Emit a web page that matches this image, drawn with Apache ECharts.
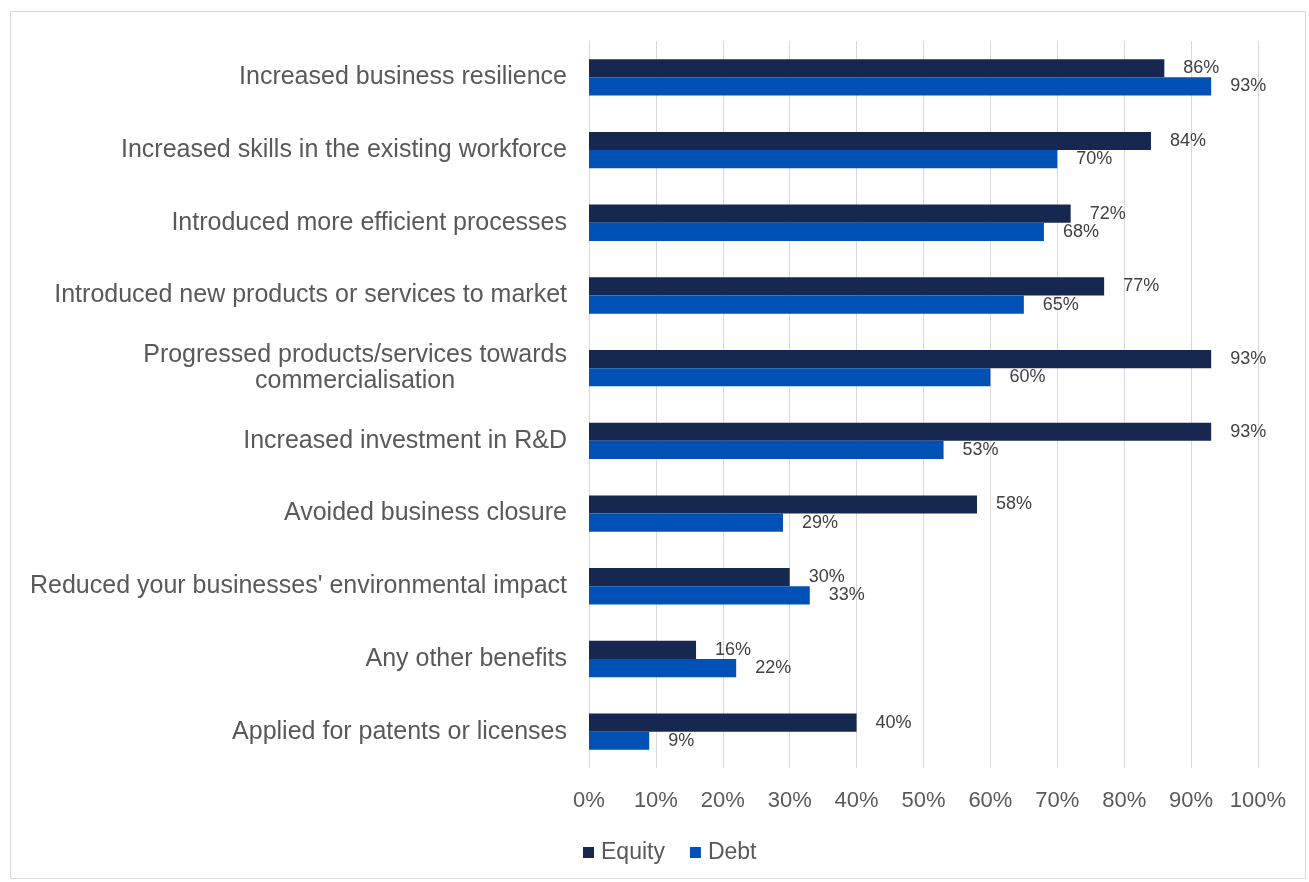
<!DOCTYPE html>
<html>
<head>
<meta charset="utf-8">
<script src="https://cdn.jsdelivr.net/npm/echarts@6/dist/echarts.min.js"></script>
<style>
html,body{margin:0;padding:0;background:#fff;}
#chart{width:1309px;height:882px;}
</style>
</head>
<body>
<div id="chart"></div>
<script>
const categories = [
  'Increased business resilience',
  'Increased skills in the existing workforce',
  'Introduced more efficient processes',
  'Introduced new products or services to market',
  'Progressed products/services towards\ncommercialisation',
  'Increased investment in R&D',
  'Avoided business closure',
  "Reduced your businesses' environmental impact",
  'Any other benefits',
  'Applied for patents or licenses'
];
const equity = [86, 84, 72, 77, 93, 93, 58, 30, 16, 40];
const debt = [93, 70, 68, 65, 60, 53, 29, 33, 22, 9];
const seriesNames = ['Equity', 'Debt'];
const tickValues = [0, 10, 20, 30, 40, 50, 60, 70, 80, 90, 100];

const FONT = '"Liberation Sans", Arial, sans-serif';
const chart = echarts.init(document.getElementById('chart'));

const labelStyle = {
  show: true,
  position: 'right',
  distance: 19,
  formatter: p => p.value + '%',
  color: '#404040',
  fontFamily: FONT,
  fontSize: 18
};

chart.setOption({
  animation: false,
  backgroundColor: '#ffffff',
  graphic: [{
    type: 'rect',
    shape: { x: 10.5, y: 11.5, width: 1295, height: 867 },
    style: { fill: 'none', stroke: '#d9d9d9', lineWidth: 1 },
    silent: true
  }],
  grid: { left: 589, right: 51, top: 41, bottom: 114, containLabel: false },
  legend: {
    data: seriesNames,
    left: 578,
    top: 836,
    itemWidth: 11,
    itemHeight: 11,
    itemGap: 25,
    icon: 'rect',
    textStyle: { color: '#595959', fontFamily: FONT, fontSize: 23, padding: [0, 0, 0, 2] }
  },
  xAxis: {
    type: 'value',
    min: 0,
    max: 100,
    interval: 10,
    axisLine: { show: false },
    axisTick: { show: false },
    splitLine: { show: true, lineStyle: { color: '#d9d9d9', width: 1 } },
    axisLabel: {
      formatter: v => tickValues.includes(v) ? v + '%' : '',
      color: '#595959',
      fontFamily: FONT,
      fontSize: 22,
      margin: 22
    }
  },
  yAxis: {
    type: 'category',
    data: categories,
    inverse: true,
    axisLine: { show: true, lineStyle: { color: '#d9d9d9' } },
    axisTick: { show: false },
    axisLabel: {
      color: '#595959',
      fontFamily: FONT,
      fontSize: 25,
      margin: 22,
      formatter: v => {
        if (v.indexOf('\n') >= 0) {
          const parts = v.split('\n');
          return '{a|' + parts[0] + '}\n{c|' + parts[1] + '}';
        }
        return v;
      },
      rich: {
        a: { color: '#595959', fontFamily: FONT, fontSize: 25, lineHeight: 26, align: 'right' },
        c: { color: '#595959', fontFamily: FONT, fontSize: 25, lineHeight: 26, align: 'center' }
      }
    }
  },
  series: [
    {
      name: seriesNames[0],
      type: 'bar',
      data: equity,
      barGap: '0%',
      barCategoryGap: '50%',
      itemStyle: { color: '#16284f' },
      label: labelStyle
    },
    {
      name: seriesNames[1],
      type: 'bar',
      data: debt,
      barGap: '0%',
      barCategoryGap: '50%',
      itemStyle: { color: '#0051b5' },
      label: labelStyle
    }
  ]
});
</script>
</body>
</html>
